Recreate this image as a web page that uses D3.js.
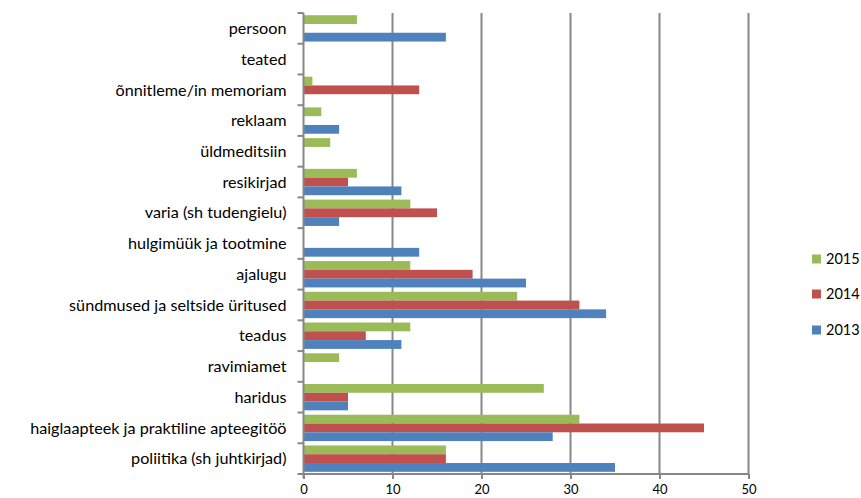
<!DOCTYPE html>
<html>
<head>
<meta charset="utf-8">
<script src="https://cdn.jsdelivr.net/npm/d3@7"></script>
<style>
  html, body { margin: 0; padding: 0; background: #fff; }
  svg { display: block; }
  text { font-family: Lato, "Open Sans", sans-serif; fill: #000; }
</style>
</head>
<body>
<svg id="chart" width="861" height="498"></svg>
<script>
// Article topics, listed top to bottom
const categories = [
  "persoon",
  "teated",
  "õnnitleme/in memoriam",
  "reklaam",
  "üldmeditsiin",
  "resikirjad",
  "varia (sh tudengielu)",
  "hulgimüük ja tootmine",
  "ajalugu",
  "sündmused ja seltside üritused",
  "teadus",
  "ravimiamet",
  "haridus",
  "haiglaapteek ja praktiline apteegitöö",
  "poliitika (sh juhtkirjad)"
];

// Article counts per year, same order as categories
const values2015 = [6, 0, 1, 2, 3, 6, 12, 0, 12, 24, 12, 4, 27, 31, 16];
const values2014 = [0, 0, 13, 0, 0, 5, 15, 0, 19, 31, 7, 0, 5, 45, 16];
const values2013 = [16, 0, 0, 4, 0, 11, 4, 13, 25, 34, 11, 0, 5, 28, 35];

const years = ["2015", "2014", "2013"];
const seriesValues = [values2015, values2014, values2013];
const colors = ["#9BBB59", "#C0504D", "#4F81BD"];
const xTicks = [0, 10, 20, 30, 40, 50];

const svg = d3.select("#chart");

const plot = { left: 303.5, right: 748.5, top: 13, bottom: 474 };

const x = d3.scaleLinear().domain([0, 50]).range([plot.left, plot.right]);
const y = d3.scaleBand().domain(categories).range([plot.top, plot.bottom]).paddingInner(0).paddingOuter(0);
const yInner = d3.scaleBand().domain(years).range([0, y.bandwidth()]).paddingInner(0).paddingOuter(0.25);

const gridColor = "#878787";

// Vertical gridlines
svg.append("g")
  .selectAll("line")
  .data(xTicks.filter(d => d > 0))
  .join("line")
  .attr("x1", d => x(d)).attr("x2", d => x(d))
  .attr("y1", plot.top).attr("y2", plot.bottom)
  .attr("stroke", gridColor)
  .attr("stroke-width", 2);

// Bars
const groups = svg.append("g")
  .selectAll("g")
  .data(categories)
  .join("g")
  .attr("transform", d => `translate(0,${y(d)})`);

groups.selectAll("rect")
  .data((d, i) => years.map((yr, s) => ({ yr, s, v: seriesValues[s][i] })))
  .join("rect")
  .attr("x", x(0))
  .attr("y", d => yInner(d.yr))
  .attr("width", d => x(d.v) - x(0))
  .attr("height", yInner.bandwidth())
  .attr("fill", d => colors[d.s])
  .attr("display", d => d.v > 0 ? null : "none");

// Category axis (left)
const yAxis = svg.append("g")
  .attr("transform", `translate(${plot.left},0)`);
yAxis.append("line")
  .attr("x1", 0).attr("x2", 0)
  .attr("y1", plot.top).attr("y2", plot.bottom + 4)
  .attr("stroke", gridColor).attr("stroke-width", 2);
const yBoundaries = categories.map(c => y(c)).concat([plot.bottom]);
yAxis.selectAll("line.tick")
  .data(yBoundaries)
  .join("line")
  .attr("class", "tick")
  .attr("x1", -6).attr("x2", 0)
  .attr("y1", d => d).attr("y2", d => d)
  .attr("stroke", gridColor).attr("stroke-width", 2);
yAxis.selectAll("text")
  .data(categories)
  .join("text")
  .attr("x", -17)
  .attr("y", d => y(d) + y.bandwidth() / 2)
  .attr("dy", "0.35em")
  .attr("text-anchor", "end")
  .attr("font-size", 16.2)
  .text(d => d);

// Value axis (bottom)
const xAxis = svg.append("g")
  .attr("transform", `translate(0,${plot.bottom})`)
  .call(d3.axisBottom(x).tickValues(xTicks).tickSize(5).tickPadding(6).tickFormat(d3.format("d")));
xAxis.select(".domain").attr("stroke", gridColor).attr("stroke-width", 2).attr("d", `M${plot.left},0H${plot.right}`);
xAxis.selectAll(".tick line").attr("stroke", gridColor).attr("stroke-width", 2);
xAxis.selectAll(".tick text")
  .attr("font-family", "Lato, 'Open Sans', sans-serif")
  .attr("font-size", 13)
  .attr("fill", "#000");

// Legend
const legend = svg.append("g");
const legendY = [259, 294, 330];
years.forEach((yr, i) => {
  legend.append("rect")
    .attr("x", 812).attr("y", legendY[i] - 4.5)
    .attr("width", 9).attr("height", 9)
    .attr("fill", colors[i]);
  legend.append("text")
    .attr("x", 826).attr("y", legendY[i])
    .attr("dy", "0.35em")
    .attr("font-size", 14.5)
    .text(yr);
});
</script>
</body>
</html>
